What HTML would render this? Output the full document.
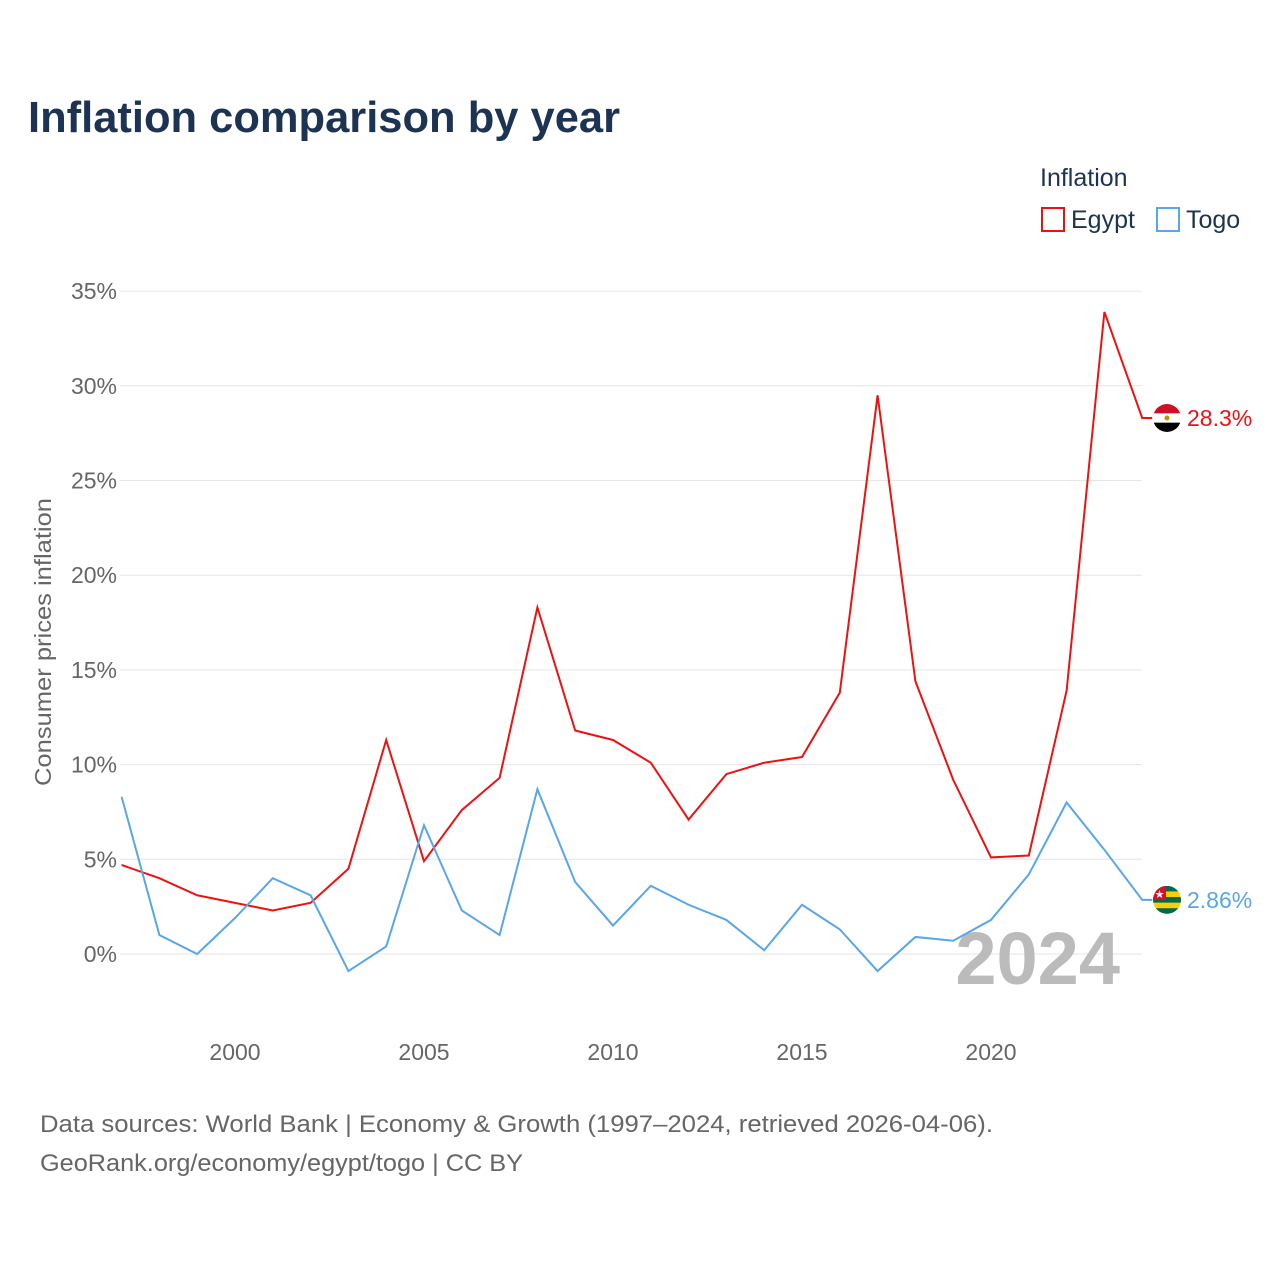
<!DOCTYPE html>
<html><head><meta charset="utf-8"><style>
body{margin:0;background:#fff;width:1280px;height:1280px;overflow:hidden;font-family:"Liberation Sans",sans-serif}
</style></head><body>
<svg width="1280" height="1280" id="chart">
<text x="28" y="132" font-size="44" font-weight="bold" fill="#1c3353" textLength="592" lengthAdjust="spacingAndGlyphs">Inflation comparison by year</text>
<text x="1040" y="186" font-size="25" fill="#1c3353">Inflation</text>
<g><rect x="1042" y="208" width="22" height="23" fill="none" stroke="#ee1111" stroke-width="2"/><text x="1071" y="228" font-size="25" fill="#1c3353">Egypt</text></g>
<g><rect x="1157" y="208" width="22" height="23" fill="none" stroke="#5aa6e8" stroke-width="2"/><text x="1186" y="228" font-size="25" fill="#1c3353">Togo</text></g>
<text transform="translate(51,642) rotate(-90)" text-anchor="middle" font-size="23" fill="#666" textLength="288" lengthAdjust="spacingAndGlyphs">Consumer prices inflation</text>
<g id="grid"></g><g id="xt"></g>
<text x="1120" y="984" text-anchor="end" font-size="74" font-weight="bold" fill="#bbb">2024</text>
<g id="series"></g>
<text x="40" y="1132" font-size="24" fill="#666" textLength="953" lengthAdjust="spacingAndGlyphs">Data sources: World Bank | Economy &amp; Growth (1997–2024, retrieved 2026-04-06).</text>
<text x="40" y="1171" font-size="24" fill="#666" textLength="483" lengthAdjust="spacingAndGlyphs">GeoRank.org/economy/egypt/togo | CC BY</text>
</svg>
<script>
const years=[];for(let y=1997;y<=2024;y++)years.push(y);
const egypt=[4.7,4.0,3.1,2.7,2.3,2.7,4.5,11.3,4.9,7.6,9.3,18.3,11.8,11.3,10.1,7.1,9.5,10.1,10.4,13.8,29.5,14.4,9.2,5.1,5.2,13.9,33.9,28.3];
const togo=[8.3,1.0,0,1.9,4.0,3.1,-0.9,0.4,6.8,2.3,1.0,8.7,3.8,1.5,3.6,2.6,1.8,0.2,2.6,1.3,-0.9,0.9,0.7,1.8,4.2,8.0,5.5,2.86];
const yTicks=[0,5,10,15,20,25,30,35];
const xTicks=[2000,2005,2010,2015,2020];
const NS="http://www.w3.org/2000/svg";
const X=v=>121.6+(v-1997)*37.8, Y=v=>954-v*18.94;
function mk(t,a,p){const e=document.createElementNS(NS,t);for(const k in a)e.setAttribute(k,a[k]);p.appendChild(e);return e;}
const g=document.getElementById('grid');
yTicks.forEach(t=>{
 const l=mk('line',{x1:120,x2:1142,y1:Y(t),y2:Y(t),stroke:'#e6e6e6','stroke-width':1},g);
 
 
 const tx=mk('text',{x:117,y:Y(t)+8,'text-anchor':'end','font-size':23,fill:'#666'},g);tx.textContent=t+'%';
 
 
});
const xg=document.getElementById('xt');
xTicks.forEach(t=>{const tx=mk('text',{x:X(t),y:1060,'text-anchor':'middle','font-size':23,fill:'#666'},xg);tx.textContent=t;
 
 });
const s=document.getElementById('series');
function line(vals,col,name,label,flag){
 const p=mk('polyline',{points:vals.map((v,i)=>X(years[i])+','+Y(v)).join(' ')+' '+(X(2024)+10)+','+Y(vals[vals.length-1]),fill:'none',stroke:col,'stroke-width':2},s);
 
 
 const yy=Y(vals[vals.length-1]);
 const fg=mk('g',{},s);
 
 
 const cid='c'+name;const cp=mk('clipPath',{id:cid},fg);mk('circle',{cx:1167,cy:yy,r:14},cp);
 const gg=mk('g',{'clip-path':'url(#'+cid+')'},fg);
 flag.forEach((c,i)=>mk('rect',{x:1153,y:yy-14+i*28/flag.length,width:28,height:28/flag.length+0.5,fill:c},gg));
 if(name==='togo'){mk('rect',{x:1153,y:yy-14,width:13,height:14,fill:'#d21034'},gg);mk('text',{x:1159.5,y:yy-2,'text-anchor':'middle','font-size':11,fill:'#fff'},gg).textContent='★';}
 else mk('circle',{cx:1167,cy:yy,r:2.5,fill:'#c09300'},gg);
 const t=mk('text',{x:1187,y:yy+8,'font-size':23,fill:col},s);t.textContent=label;
 
 
}
line(egypt,'#ee1111','egypt','28.3%',['#ce1126','#fff','#000']);
line(togo,'#5aa6e8','togo','2.86%',['#006a4e','#ffce00','#006a4e','#ffce00','#006a4e']);
</script>
</body></html>
